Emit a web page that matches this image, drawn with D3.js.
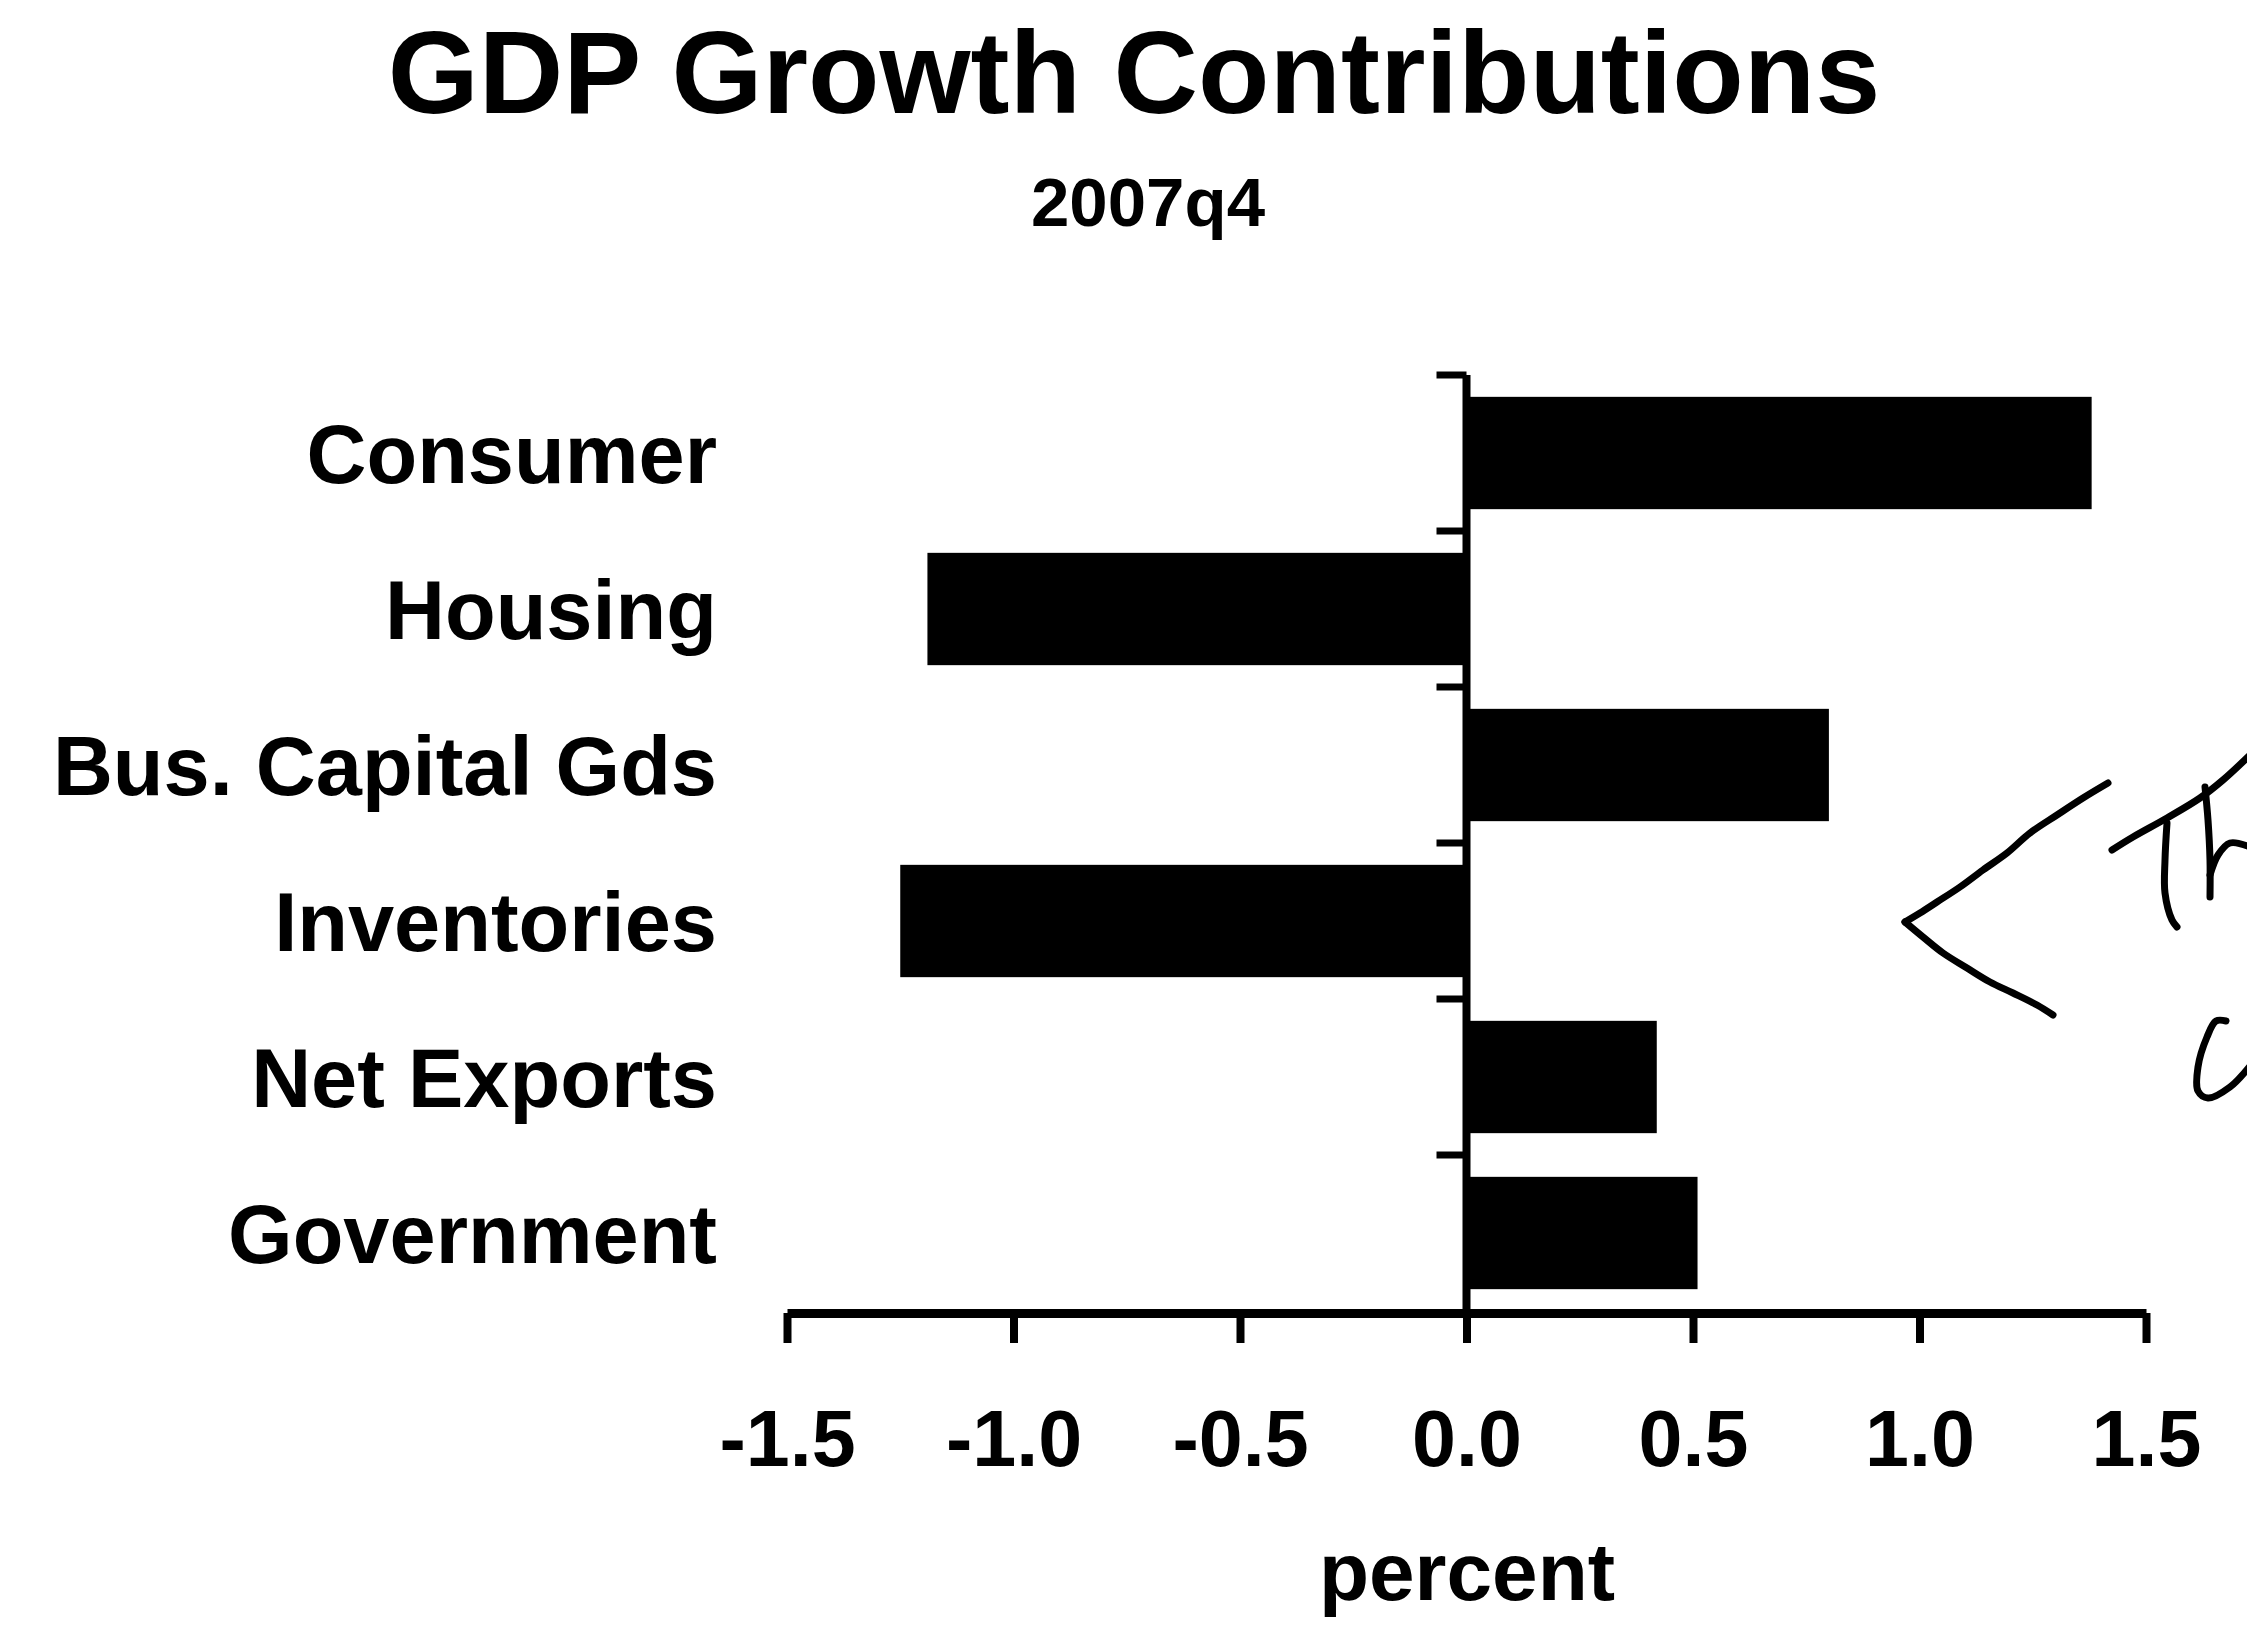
<!DOCTYPE html>
<html>
<head>
<meta charset="utf-8">
<script src="https://cdn.jsdelivr.net/npm/d3@7"></script>
<style>
  html, body { margin: 0; padding: 0; background: #fff; }
  svg { display: block; }
  text { font-family: "Liberation Sans", Arial, Helvetica, sans-serif; font-weight: bold; fill: #000; }
</style>
</head>
<body>
<script>
// GDP growth contributions by component, 2007q4 (percentage points)
const categories = ["Consumer", "Housing", "Bus. Capital Gds", "Inventories", "Net Exports", "Government"];
const contributions = [1.38, -1.19, 0.80, -1.25, 0.42, 0.51];
const xTickValues = [-1.5, -1.0, -0.5, 0.0, 0.5, 1.0, 1.5];
const xTickLabels = ["-1.5", "-1.0", "-0.5", "0.0", "0.5", "1.0", "1.5"];
const titleText = "GDP Growth Contributions";
const subtitleText = "2007q4";
const xAxisTitle = "percent";

const W = 2247, H = 1641;
const svg = d3.select("body").append("svg").attr("width", W).attr("height", H);

const x = d3.scaleLinear().domain([-1.5, 1.5]).range([787, 2146]);
const y = d3.scaleBand().domain(categories).range([375, 1311])
  .paddingInner(0.28).paddingOuter(0.14);

// Titles
svg.append("text").attr("x", 1134).attr("y", 113).attr("text-anchor", "middle")
  .style("font-size", "117px").text(titleText);
svg.append("text").attr("x", 1148).attr("y", 226).attr("text-anchor", "middle")
  .style("font-size", "69px").text(subtitleText);

// Bars
svg.append("g").selectAll("rect").data(categories).join("rect")
  .attr("x", (d, i) => x(Math.min(0, contributions[i])))
  .attr("width", (d, i) => Math.abs(x(contributions[i]) - x(0)))
  .attr("y", d => y(d))
  .attr("height", y.bandwidth())
  .attr("fill", "#000");

// Category labels
svg.append("g").selectAll("text").data(categories).join("text")
  .attr("x", 717)
  .attr("y", d => y(d) + y.bandwidth() / 2)
  .attr("dy", "0.36em")
  .attr("text-anchor", "end")
  .style("font-size", "83px")
  .text(d => d);

// Vertical zero line with ticks at category boundaries
const step = y.step();
const boundaries = categories.map(c => y(c) - step * y.paddingInner() / 2);
const yAxis = svg.append("g");
yAxis.append("line")
  .attr("x1", x(0)).attr("x2", x(0))
  .attr("y1", y.range()[0]).attr("y2", y.range()[1])
  .attr("stroke", "#000").attr("stroke-width", 8);
yAxis.selectAll("line.tick").data(boundaries).join("line")
  .attr("class", "tick")
  .attr("x1", x(0) - 30).attr("x2", x(0))
  .attr("y1", d => d).attr("y2", d => d)
  .attr("stroke", "#000").attr("stroke-width", 7);

// Horizontal axis
const axisY = 1313;
const xAxis = svg.append("g").attr("transform", `translate(0,${axisY})`)
  .call(d3.axisBottom(x)
    .tickValues(xTickValues)
    .tickFormat((d, i) => xTickLabels[i])
    .tickSize(30)
    .tickSizeOuter(0));
xAxis.select(".domain").attr("stroke", "#000").attr("stroke-width", 9);
xAxis.selectAll(".tick line").attr("stroke", "#000").attr("stroke-width", 8);
xAxis.selectAll(".tick text")
  .attr("y", 153).attr("dy", null)
  .attr("fill", "#000")
  .style("font-size", "79px")
  .style("font-family", "'Liberation Sans', Arial, Helvetica, sans-serif")
  .style("font-weight", "bold");

svg.append("text").attr("x", 1467).attr("y", 1600).attr("text-anchor", "middle")
  .style("font-size", "82px").text(xAxisTitle);

// Hand-drawn ink annotation at the right edge
const annotationStrokes = [
  [[1905,922],[1920,913],[1937,902],[1960,887],[1983,870],[2007,853],[2030,833],[2057,815],[2083,798],[2108,783]],
  [[1905,922],[1923,937],[1943,953],[1967,968],[1990,982],[2013,993],[2037,1005],[2053,1015]],
  [[2112,850],[2133,837],[2167,818],[2200,798],[2223,780],[2250,755]],
  [[2167,823],[2165,860],[2165,893],[2172,920],[2177,927]],
  [[2205,787],[2208,820],[2210,860],[2210,897]],
  [[2210,875],[2218,855],[2230,843],[2250,847]],
  [[2226,1021],[2216,1021],[2207,1037],[2198,1067],[2198,1091],[2208,1098],[2230,1087],[2250,1066]]
];
const ink = d3.line().curve(d3.curveCatmullRom.alpha(0.5));
svg.append("g").selectAll("path").data(annotationStrokes).join("path")
  .attr("d", ink)
  .attr("fill", "none")
  .attr("stroke", "#000")
  .attr("stroke-width", 7)
  .attr("stroke-linecap", "round")
  .attr("stroke-linejoin", "round");
</script>
</body>
</html>
